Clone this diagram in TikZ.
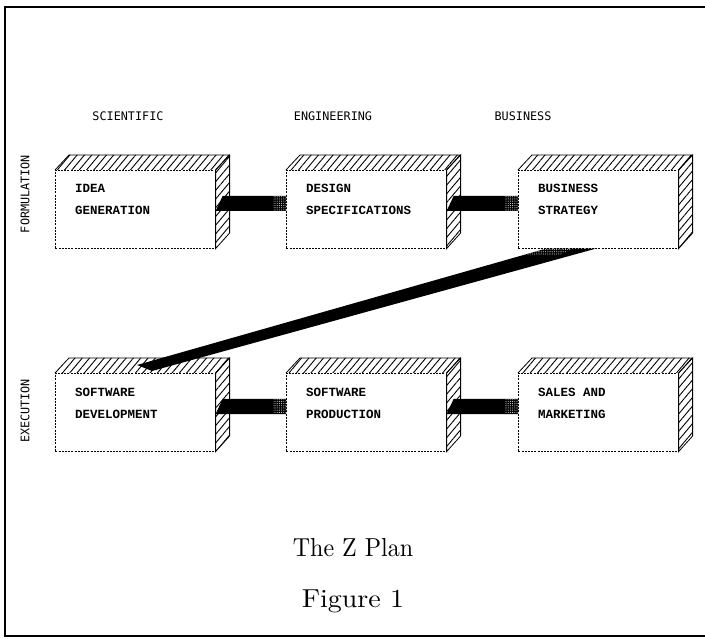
\documentclass[tikz,border=0pt]{standalone}
\usepackage{fontspec}
\newfontfamily\plotfont{DejaVu Sans Mono}
\newfontfamily\boxfont{Liberation Mono}
\usetikzlibrary{patterns.meta,calc}
\newcommand\zplanbox[5]{%
  \node[frontbox] (#1) at (#2,#3) {};
  \fill[hatchfill] (#1.north west) -- ++(14,-15) -- ++(160,0) -- (#1.north east) -- cycle;
  \draw[edge] (#1.north west) -- ++(14,-15) -- ++(160,0) -- (#1.north east);
  \draw[edge,hatchfill] (#1.north east) -- ++(14,-15) -- ++(0,78) -- (#1.south east) -- cycle;
  \node[boxtext] (#1-a) at ($(#1.north west)+(20,23)$) {#4};
  \node[boxtext] (#1-b) at ($(#1.north west)+(20,45)$) {#5};
}
\newcommand\hband[2]{%
  \fill ($(#1.north east)+(0,41)$) -- ($(#1.north east)+(7,26)$) -- ($(#2.north west)+(0,26)$) -- ($(#2.north west)+(0,41)$) -- cycle;
  \fill[stipple] ($(#2.north west)+(-13,26)$) rectangle ($(#2.north west)+(0,41)$);
}
\begin{document}
\begin{tikzpicture}[x=1pt,y=-1pt,
  frontbox/.style={draw, line width=0.6pt, dash pattern=on 2pt off 1.2pt, minimum width=160pt, minimum height=78pt, anchor=north west, inner sep=0pt, fill=white},
  hatchfill/.style={pattern={Lines[angle=50,distance=5.6pt,line width=0.9pt]}},
  stipple/.style={pattern={Dots[distance=2.2pt,radius=0.55pt]}, pattern color=white!85!black},
  edge/.style={draw, line width=0.8pt},
  boxtext/.style={font=\boxfont\bfseries\fontsize{12.5}{14}\selectfont, anchor=base west, inner sep=0pt},
  head/.style={font=\plotfont\fontsize{11.8}{13}\selectfont, inner sep=0pt},
  caption/.style={inner sep=0pt},
]
\useasboundingbox (0,0) rectangle (705,639);
\draw[line width=1.2pt] (705,7) -- (5,7) -- (5,636) -- (705,636);

\node[head] (sci) at (128,116) {SCIENTIFIC};
\node[head] (eng) at (333,116) {ENGINEERING};
\node[head] (bus) at (523,116) {BUSINESS};
\node[head, rotate=90] (form) at (25,194) {FORMULATION};
\node[head, rotate=90] (exec) at (25,411) {EXECUTION};

\zplanbox{idea}{55}{170}{IDEA}{GENERATION}
\zplanbox{design}{286}{170}{DESIGN}{SPECIFICATIONS}
\zplanbox{strat}{518}{170}{BUSINESS}{STRATEGY}
\zplanbox{dev}{55}{373}{SOFTWARE}{DEVELOPMENT}
\zplanbox{prod}{286}{373}{SOFTWARE}{PRODUCTION}
\zplanbox{sales}{518}{373}{SALES AND}{MARKETING}

\hband{idea}{design}
\hband{design}{strat}
\hband{dev}{prod}
\hband{prod}{sales}

\fill ($(strat.south west)+(28,0)$) -- ($(strat.south west)+(78,0)$) -- ($(dev.north west)+(97,-2)$) -- ($(dev.north west)+(82,-8)$) -- cycle;
\fill[stipple] ($(strat.south west)+(28,0)$) -- ($(strat.south west)+(55,0)$) -- ($(strat.south west)+(40,7)$) -- ($(strat.south west)+(4,7)$) -- cycle;

\node[caption] (title) at (353,548) {\scalebox{2.4}[2.6]{The Z Plan}};
\node[caption] (fig) at (353,601) {\scalebox{2.8}[2.6]{Figure 1}};
\end{tikzpicture}
\end{document}
